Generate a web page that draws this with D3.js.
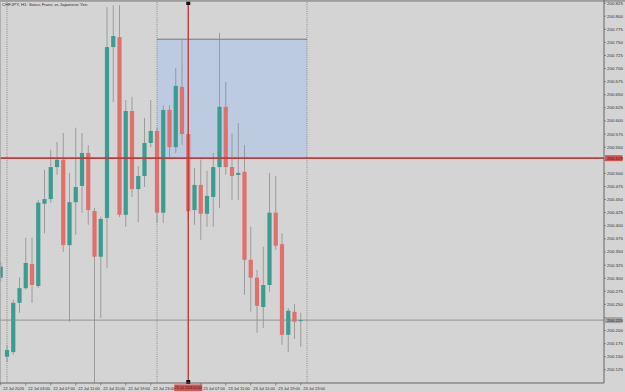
<!DOCTYPE html>
<html lang="en">
<head>
<meta charset="utf-8">
<title>CHFJPY H1</title>
<style>
  html,body{margin:0;background:#d4d4d4}
  svg{display:block}
  .lbl{font-family:"Liberation Sans",Arial,sans-serif;font-size:4.4px;fill:#303030}
  .tl{font-size:4px}
  .wick{stroke:#8e8e8e;stroke-width:0.8}
</style>
<script src="https://d3js.org/d3.v7.min.js"></script>
</head>
<body>
<svg id="chart" width="625" height="392"></svg>
<script>
// --- data (H1 bars, index 0 is the partly hidden bar at the left edge) ---
const opens =[200.301,200.150,200.159,200.253,200.281,200.327,200.285,200.442,200.451,200.512,
              200.526,200.363,200.445,200.476,200.539,200.428,200.341,200.415,200.741,200.760,
              200.421,200.619,200.470,200.495,200.558,200.581,200.425,200.621,200.550,200.665,
              200.575,200.430,200.478,200.423,200.455,200.512,200.627,200.512,200.497,200.503,
              200.335,200.301,200.245,200.287,200.425,200.365,200.192,200.236,200.219];
const highs =[200.331,200.173,200.259,200.302,200.377,200.377,200.449,200.507,200.545,200.560,
              200.577,200.501,200.587,200.577,200.554,200.434,200.417,200.817,200.821,200.821,
              200.640,200.646,200.514,200.606,200.640,200.587,200.630,200.630,200.701,200.754,
              200.577,200.510,200.526,200.505,200.539,200.768,200.674,200.577,200.596,200.554,
              200.398,200.316,200.360,200.501,200.495,200.386,200.243,200.251,200.234];
const lows  =[200.293,200.140,200.154,200.234,200.278,200.253,200.281,200.386,200.444,200.497,
              200.350,200.217,200.383,200.425,200.402,200.100,200.224,200.320,200.636,200.417,
              200.398,200.455,200.407,200.474,200.550,200.405,200.405,200.531,200.539,200.554,
              200.411,200.402,200.373,200.398,200.398,200.434,200.497,200.449,200.449,200.268,
              200.236,200.196,200.205,200.274,200.354,200.173,200.159,200.184,200.169];
const closes=[200.322,200.163,200.253,200.281,200.329,200.287,200.444,200.451,200.512,200.526,
              200.363,200.445,200.474,200.539,200.430,200.341,200.413,200.741,200.762,200.421,
              200.619,200.470,200.495,200.558,200.581,200.425,200.621,200.550,200.667,200.575,
              200.428,200.478,200.423,200.457,200.512,200.627,200.512,200.495,200.501,200.335,
              200.301,200.247,200.287,200.425,200.362,200.192,200.238,200.217,200.220];

const timeTicks=[[0,"22 Jul 2026"],[4,"22 Jul 03:00"],[8,"22 Jul 07:00"],[12,"22 Jul 11:00"],
                 [16,"22 Jul 15:00"],[20,"22 Jul 19:00"],[24,"22 Jul 23:00"],[32,"23 Jul 07:00"],
                 [36,"23 Jul 11:00"],[40,"23 Jul 15:00"],[44,"23 Jul 19:00"],[48,"23 Jul 23:00"]];
const priceTicks=d3.range(200.825,200.124,-0.025);
const separators=[1,25,49];           // day starts
const rectBox=[25,49,200.756,200.529]; // blue rectangle: bar from, bar to, top price, bottom price
const crossBar=30, crossPrice=200.529, crossTime="23 Jul 2026 05:00";
const bidPrice=200.220;

// --- scales ---
const W=625,H=392,plotR=604,plotT=2,plotB=383;
const x=d3.scaleLinear().domain([0,48]).range([0.75,300.75]);
const y=d3.scaleLinear().domain([200.1,200.827]).range([plotB,plotT]);

const svg=d3.select('#chart');
svg.append('rect').attr('width',W).attr('height',H).attr('fill','#d4d4d4');
svg.append('defs').append('clipPath').attr('id','clip')
   .append('rect').attr('x',0).attr('y',plotT).attr('width',plotR).attr('height',plotB-plotT);
const g=svg.append('g').attr('clip-path','url(#clip)');

// rectangle object
g.append('rect').attr('x',x(rectBox[0])).attr('y',y(rectBox[2]))
 .attr('width',x(rectBox[1])-x(rectBox[0])).attr('height',y(rectBox[3])-y(rectBox[2]))
 .attr('fill','#bccbe0');
g.append('line').attr('x1',x(rectBox[0])).attr('x2',x(rectBox[1]))
 .attr('y1',y(rectBox[2])).attr('y2',y(rectBox[2])).attr('stroke','#6e6e6e').attr('stroke-width',0.9);

// period separators
g.selectAll('.sep').data(separators).enter().append('line')
 .attr('x1',d=>x(d)).attr('x2',d=>x(d)).attr('y1',plotT).attr('y2',plotB)
 .attr('stroke','#7a7a7a').attr('stroke-width',0.8).attr('stroke-dasharray','1,1.2');

// bid line
g.append('line').attr('x1',0).attr('x2',plotR).attr('y1',y(bidPrice)).attr('y2',y(bidPrice))
 .attr('stroke','#8a8a8a').attr('stroke-width',0.9);

// candles
const bars=d3.range(opens.length);
g.selectAll('.wick').data(bars).enter().append('line').attr('class','wick')
 .attr('x1',i=>x(i)).attr('x2',i=>x(i)).attr('y1',i=>y(highs[i])).attr('y2',i=>y(lows[i]));
g.selectAll('.body').data(bars).enter().append('rect')
 .attr('x',i=>x(i)-2.1).attr('width',4.2)
 .attr('y',i=>y(Math.max(opens[i],closes[i])))
 .attr('height',i=>Math.max(1,Math.abs(y(opens[i])-y(closes[i]))))
 .attr('fill',i=>closes[i]>=opens[i]?'#3b9d92':'#e0706c');

// crosshair
g.append('line').attr('x1',0).attr('x2',plotR).attr('y1',y(crossPrice)).attr('y2',y(crossPrice))
 .attr('stroke','#c23b3b').attr('stroke-width',1.8);
svg.append('line').attr('x1',x(crossBar)).attr('x2',x(crossBar)).attr('y1',plotT).attr('y2',plotB)
 .attr('stroke','#c23b3b').attr('stroke-width',1.4);
[plotT+1,plotB-1].forEach(v=>svg.append('rect').attr('x',x(crossBar)-2).attr('y',v-2)
 .attr('width',4).attr('height',4).attr('fill','#111'));

// frame
svg.append('rect').attr('x',0).attr('y',0).attr('width',W).attr('height',1.8).attr('fill','#9d9d9d');
svg.append('line').attr('x1',0.4).attr('x2',0.4).attr('y1',0).attr('y2',plotB).attr('stroke','#a0a0a0').attr('stroke-width',0.8);
svg.append('line').attr('x1',plotR).attr('x2',plotR).attr('y1',0).attr('y2',plotB).attr('stroke','#5a5a5a').attr('stroke-width',0.9);
svg.append('line').attr('x1',0).attr('x2',plotR).attr('y1',plotB).attr('y2',plotB).attr('stroke','#5a5a5a').attr('stroke-width',0.9);

// price axis (labels hidden where a price tag sits on top of them)
const pa=svg.append('g');
const tags=[bidPrice,crossPrice];
priceTicks.forEach(p=>{
  pa.append('line').attr('x1',plotR).attr('x2',plotR+2).attr('y1',y(p)).attr('y2',y(p)).attr('stroke','#5a5a5a').attr('stroke-width',0.6);
  if(tags.some(t=>Math.abs(y(t)-y(p))<6.5))return;
  pa.append('text').attr('class','lbl').attr('x',plotR+3).attr('y',y(p)+1.5).text(p.toFixed(3));
});
function priceTag(p,fill){
  pa.append('rect').attr('x',plotR+1).attr('y',y(p)-3).attr('width',17.5).attr('height',6).attr('fill',fill);
  pa.append('text').attr('class','lbl').attr('x',plotR+3).attr('y',y(p)+1.5).style('fill','#222').text(p.toFixed(3));
}
priceTag(bidPrice,'#a3a3a3');
priceTag(crossPrice,'#d9514e');

// time axis
const ta=svg.append('g');
timeTicks.forEach(([i,t])=>{
  ta.append('line').attr('x1',x(i)).attr('x2',x(i)).attr('y1',plotB).attr('y2',plotB+2.5).attr('stroke','#5a5a5a').attr('stroke-width',0.6);
  ta.append('text').attr('class','lbl tl').attr('x',x(i)+2.5).attr('y',plotB+6.5).text(t);
});
ta.append('rect').attr('x',x(crossBar)-14).attr('y',plotB+1.5).attr('width',28).attr('height',6.5).attr('fill','#d9514e');
ta.append('text').attr('class','lbl').attr('x',x(crossBar)).attr('y',plotB+6.3).attr('text-anchor','middle')
  .style('font-size','3.4px').style('fill','#222').text(crossTime);

// title
svg.append('text').attr('class','lbl').attr('x',2).attr('y',6).text('CHFJPY, H1:  Swiss Franc vs Japanese Yen');
</script>
</body>
</html>
